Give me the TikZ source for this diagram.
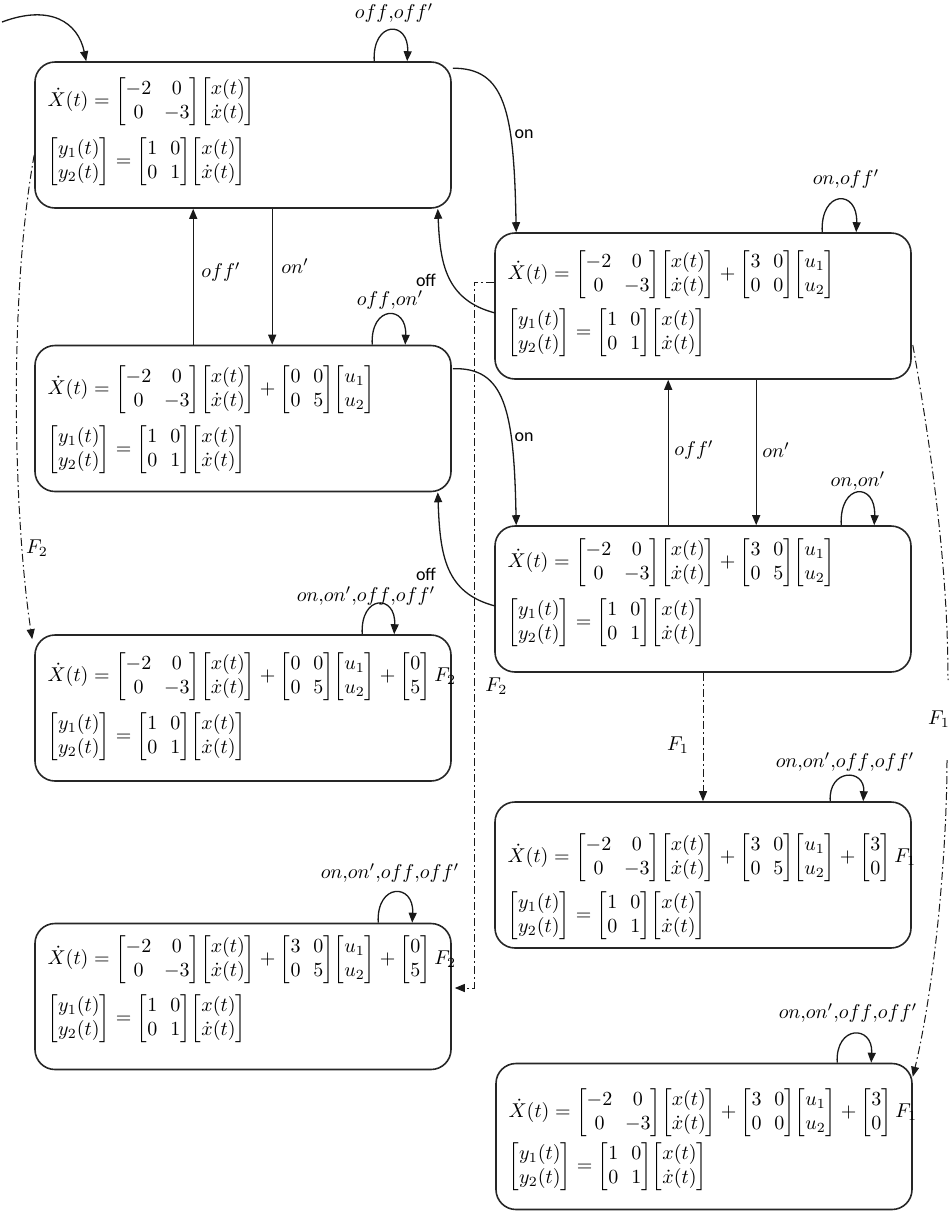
\documentclass[tikz,border=0pt]{standalone}
\usepackage{amsmath}
\usepackage{fontspec}
\newfontfamily\carlito{Carlito}
\usetikzlibrary{arrows.meta,calc}

\newcommand{\mymat}[2]{\left[\renewcommand{\arraystretch}{1.0}\setlength{\arraycolsep}{3.2pt}\begin{array}{@{}#1@{}}#2\end{array}\right]}
\newcommand{\myXd}{\dot X(t) = \mymat{cc}{-2&0\\0&-3}\!\mymat{c}{x(t)\\\dot x(t)}}
\newcommand{\myYeq}{\mymat{c}{y_1(t)\\y_2(t)} = \mymat{cc}{1&0\\0&1}\!\mymat{c}{x(t)\\\dot x(t)}}
\newcommand{\myUb}{\!\mymat{c}{u_1\\u_2}}

\tikzset{
  box/.style={draw=black!85, line width=0.8pt, rounded corners=10pt,
    minimum width=208pt, minimum height=73pt, inner sep=0pt},
  eq/.style={anchor=west, inner sep=0pt},
  arr/.style={-{Triangle[length=5pt,width=4pt]}, line width=0.65pt, draw=black!90},
  dd/.style={line width=0.5pt, draw=black!90, dash pattern=on 4pt off 1.6pt on 0.8pt off 1.6pt},
  ddarr/.style={dd, -{Triangle[length=5pt,width=4pt]}},
  lab/.style={inner sep=1pt},
  sans/.style={inner sep=1pt, font=\carlito\fontsize{9}{10}\selectfont},
}

\begin{document}
\begin{tikzpicture}[x=0.5pt,y=-0.5pt]
\useasboundingbox (0,0) rectangle (949,1212);

% boxes
\node[box] (A) at (243,135) {};
\node[box] (B) at (703,306) {};
\node[box] (C) at (243,418.5) {};
\node[box] (D) at (703,599) {};
\node[box] (E) at (243,708) {};
\node[box] (F) at (703,875) {};
\node[box] (G) at (243,996.5) {};
\node[box] (H) at (704,1136.5) {};

% equations
\node[eq] (A1) at ($(A.north west)+(13,40)$) {$\myXd$};
\node[eq] (A2) at ($(A.north west)+(13,100)$) {$\myYeq$};

\node[eq] (B1) at ($(B.north west)+(13,42)$) {$\myXd+\mymat{cc}{3&0\\0&0}\myUb$};
\node[eq] (B2) at ($(B.north west)+(13,100)$) {$\myYeq$};

\node[eq] (C1) at ($(C.north west)+(13,45)$) {$\myXd+\mymat{cc}{0&0\\0&5}\myUb$};
\node[eq] (C2) at ($(C.north west)+(13,105)$) {$\myYeq$};

\node[eq] (D1) at ($(D.north west)+(13,37)$) {$\myXd+\mymat{cc}{3&0\\0&5}\myUb$};
\node[eq] (D2) at ($(D.north west)+(13,97)$) {$\myYeq$};

\node[eq] (E1) at ($(E.north west)+(13,42)$) {$\myXd+\mymat{cc}{0&0\\0&5}\myUb+\mymat{c}{0\\5}F_2$};
\node[eq] (E2) at ($(E.north west)+(13,102)$) {$\myYeq$};

\node[eq] (F1) at ($(F.north west)+(13,56)$) {$\myXd+\mymat{cc}{3&0\\0&5}\myUb+\mymat{c}{3\\0}F_1$};
\node[eq] (F2) at ($(F.north west)+(13,114)$) {$\myYeq$};

\node[eq] (G1) at ($(G.north west)+(13,37)$) {$\myXd+\mymat{cc}{3&0\\0&5}\myUb+\mymat{c}{0\\5}F_2$};
\node[eq] (G2) at ($(G.north west)+(13,96)$) {$\myYeq$};

\node[eq] (H1) at ($(H.north west)+(13,50)$) {$\myXd+\mymat{cc}{3&0\\0&0}\myUb+\mymat{c}{3\\0}F_1$};
\node[eq] (H2) at ($(H.north west)+(13,104)$) {$\myYeq$};

% initial arrow
\coordinate (start) at (2,22);
\draw[arr] (start) .. controls (50,4) and (78,22) .. ($(A.north west)+(52,0)$);

% self loops
\draw[arr] ($(A.north west)+(340,0)$) .. controls +(-2,-41) and +(2,-41) .. ($(A.north west)+(373,0)$);
\node[lab] (Al) at (394,13) {$off{,}off'$};
\draw[arr] ($(B.north west)+(328,0)$) .. controls +(-2,-43) and +(2,-43) .. ($(B.north west)+(362,0)$);
\node[lab] (Bl) at (846,179) {$on{,}off'$};
\draw[arr] ($(C.north west)+(338,0)$) .. controls +(-2,-40) and +(2,-40) .. ($(C.north west)+(371,0)$);
\node[lab] (Cl) at (390,300) {$off{,}on'$};
\draw[arr] ($(D.north west)+(347,0)$) .. controls +(-2,-43) and +(2,-43) .. ($(D.north west)+(380,0)$);
\node[lab] (Dl) at (858,481) {$on{,}on'$};
\draw[arr] ($(E.north west)+(328,0)$) .. controls +(-2,-40) and +(2,-40) .. ($(E.north west)+(360,0)$);
\node[lab] (El) at (366,596) {$on{,}on'{,}off{,}off'$};
\draw[arr] ($(F.north west)+(336,0)$) .. controls +(-2,-33) and +(2,-33) .. ($(F.north west)+(369,0)$);
\node[lab] (Fl) at (845,762) {$on{,}on'{,}off{,}off'$};
\draw[arr] ($(G.north west)+(344,0)$) .. controls +(-2,-40) and +(2,-40) .. ($(G.north west)+(378,0)$);
\node[lab] (Gl) at (390,873) {$on{,}on'{,}off{,}off'$};
\draw[arr] ($(H.north west)+(342,0)$) .. controls +(-2,-38) and +(2,-38) .. ($(H.north west)+(376,0)$);
\node[lab] (Hl) at (848,1013) {$on{,}on'{,}off{,}off'$};

% A <-> B
\draw[arr] ($(A.north east)+(1,7)$) .. controls (505,68) and (514,110) .. ($(B.north west)+(22,0)$);
\node[sans] (ABl) at (524,134) {on};
\draw[arr] ($(B.west)+(1,7)$) .. controls (445,300) and (440,262) .. ($(A.south east)+(-14,0)$);
\node[sans] (BAl) at (426,280) {off};

% C <-> D
\draw[arr] ($(C.north east)+(1,24)$) .. controls (505,367) and (514,410) .. ($(D.north west)+(22,0)$);
\node[sans] (CDl) at (524,437) {on};
\draw[arr] ($(D.west)+(1,7)$) .. controls (445,593) and (440,555) .. ($(C.south east)+(-14,0)$);
\node[sans] (DCl) at (426,574) {off};

% A <-> C
\draw[arr] ($(A.south west)+(238,0)$) -- ($(C.north west)+(238,0)$);
\node[lab,anchor=west] (ACl) at (279,266) {$on'$};
\draw[arr] ($(C.north west)+(159,0)$) -- ($(A.south west)+(159,0)$);
\node[lab,anchor=west] (CAl) at (199,272) {$off'$};

% B <-> D
\draw[arr] ($(B.south west)+(262,0)$) -- ($(D.north west)+(262,0)$);
\node[lab,anchor=west] (BDl) at (760,450) {$on'$};
\draw[arr] ($(D.north west)+(174,0)$) -- ($(B.south west)+(174,0)$);
\node[lab,anchor=west] (DBl) at (672,450) {$off'$};

% fault transitions
\draw[ddarr] ($(A.west)+(0,20)$) .. controls (8,300) and (14,520) .. ($(E.north west)+(-2,5)$);
\node[lab] (AEl) at (37,548) {$F_2$};

\draw[ddarr] ($(B.west)+(0,-24)$) -- ++(-20,0) |- ($(G.east)+(3,-8.5)$);
\node[lab,anchor=west] (BGl) at (483,686) {$F_2$};

\draw[ddarr] (D.south) -- (F.north);
\node[lab] (DFl) at (678,745) {$F_1$};

\coordinate (f1a) at (948,680);
\coordinate (f1b) at (947,760);
\draw[dd] ($(B.east)+(1,39)$) .. controls (935,470) and (948,580) .. (f1a);
\node[lab] (BHl) at (939,719) {$F_1$};
\draw[ddarr] (f1b) .. controls (947,850) and (935,985) .. ($(H.north east)+(0,14)$);

\end{tikzpicture}
\end{document}
